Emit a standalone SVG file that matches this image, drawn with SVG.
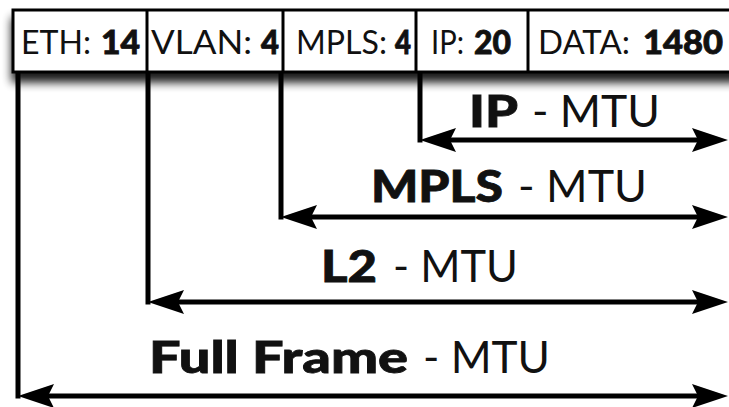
<svg xmlns="http://www.w3.org/2000/svg" width="729" height="407" viewBox="0 0 729 407">
  <defs>
    <filter id="shadow" x="-10%" y="-30%" width="120%" height="190%">
      <feGaussianBlur in="SourceAlpha" stdDeviation="5"/>
      <feOffset dx="0" dy="9" result="b"/>
      <feComponentTransfer><feFuncA type="linear" slope="0.9"/></feComponentTransfer>
      <feMerge><feMergeNode/><feMergeNode in="SourceGraphic"/></feMerge>
    </filter>
    <marker id="ah" viewBox="0 0 36 24" refX="6" refY="12" markerWidth="36" markerHeight="24" markerUnits="userSpaceOnUse" orient="auto-start-reverse">
      <path d="M0,0 L36,12 L0,24 L6,12 Z" fill="#000"/>
    </marker>
    <style>
      .hdr { font-family: Lato, "Open Sans", "Liberation Sans", sans-serif; font-size: 32px; fill: #111; }
      .lbl { font-family: Lato, "Open Sans", "Liberation Sans", sans-serif; font-size: 44px; fill: #111; }
      .b { font-weight: 900; stroke: #111; stroke-width: 0.8; }
      .cell { fill: none; stroke: #000; stroke-width: 3; }
      .vline { stroke: #000; stroke-width: 5; fill: none; }
      .arrow { stroke: #000; stroke-width: 5; fill: none; marker-start: url(#ah); marker-end: url(#ah); }
    </style>
  </defs>
  <rect width="729" height="407" fill="#fff"/>

  <g id="header">
    <rect x="13" y="10" width="730" height="62" fill="#fff" stroke="#000" stroke-width="3" filter="url(#shadow)"/>
    <g id="cell-eth">
      <text class="hdr" x="21" y="54" textLength="70" lengthAdjust="spacingAndGlyphs">ETH:</text>
      <text class="hdr b" x="101" y="54" textLength="39" lengthAdjust="spacingAndGlyphs">14</text>
    </g>
    <g id="cell-vlan">
      <line class="cell" x1="147" y1="10" x2="147" y2="72"/>
      <text class="hdr" x="151" y="54" textLength="101" lengthAdjust="spacingAndGlyphs">VLAN:</text>
      <text class="hdr b" x="261" y="54" textLength="18" lengthAdjust="spacingAndGlyphs">4</text>
    </g>
    <g id="cell-mpls">
      <line class="cell" x1="283" y1="10" x2="283" y2="72"/>
      <text class="hdr" x="296" y="54" textLength="91" lengthAdjust="spacingAndGlyphs">MPLS:</text>
      <text class="hdr b" x="395" y="54" textLength="16" lengthAdjust="spacingAndGlyphs">4</text>
    </g>
    <g id="cell-ip">
      <line class="cell" x1="416" y1="10" x2="416" y2="72"/>
      <text class="hdr" x="431" y="54" textLength="33" lengthAdjust="spacingAndGlyphs">IP:</text>
      <text class="hdr b" x="474" y="54" textLength="37" lengthAdjust="spacingAndGlyphs">20</text>
    </g>
    <g id="cell-data">
      <line class="cell" x1="528" y1="10" x2="528" y2="72"/>
      <text class="hdr" x="538" y="54" textLength="92" lengthAdjust="spacingAndGlyphs">DATA:</text>
      <text class="hdr b" x="643" y="54" textLength="80" lengthAdjust="spacingAndGlyphs">1480</text>
    </g>
  </g>

  <g id="connectors">
    <path class="vline" d="M420,72 V142.5"/>
    <path class="arrow" d="M450,140 H698"/>
    <path class="vline" d="M281,72 V219.5"/>
    <path class="arrow" d="M311,217 H698"/>
    <path class="vline" d="M148,72 V304.5"/>
    <path class="arrow" d="M178,302 H698"/>
    <path class="vline" d="M18,72 V398.5"/>
    <path class="arrow" d="M48,396 H698"/>
  </g>

  <g id="label-ip">
    <text class="lbl b" x="469" y="127" textLength="49" lengthAdjust="spacingAndGlyphs">IP</text>
    <text class="lbl" x="532" y="127" textLength="128" lengthAdjust="spacingAndGlyphs">- MTU</text>
  </g>
  <g id="label-mpls">
    <text class="lbl b" x="371" y="202" textLength="132" lengthAdjust="spacingAndGlyphs">MPLS</text>
    <text class="lbl" x="518" y="202" textLength="129" lengthAdjust="spacingAndGlyphs">- MTU</text>
  </g>
  <g id="label-l2">
    <text class="lbl b" x="321" y="282" textLength="56" lengthAdjust="spacingAndGlyphs">L2</text>
    <text class="lbl" x="393" y="282" textLength="125" lengthAdjust="spacingAndGlyphs">- MTU</text>
  </g>
  <g id="label-full">
    <text class="lbl b" x="149" y="373" textLength="259" lengthAdjust="spacingAndGlyphs">Full Frame</text>
    <text class="lbl" x="423" y="373" textLength="127" lengthAdjust="spacingAndGlyphs">- MTU</text>
  </g>
</svg>
